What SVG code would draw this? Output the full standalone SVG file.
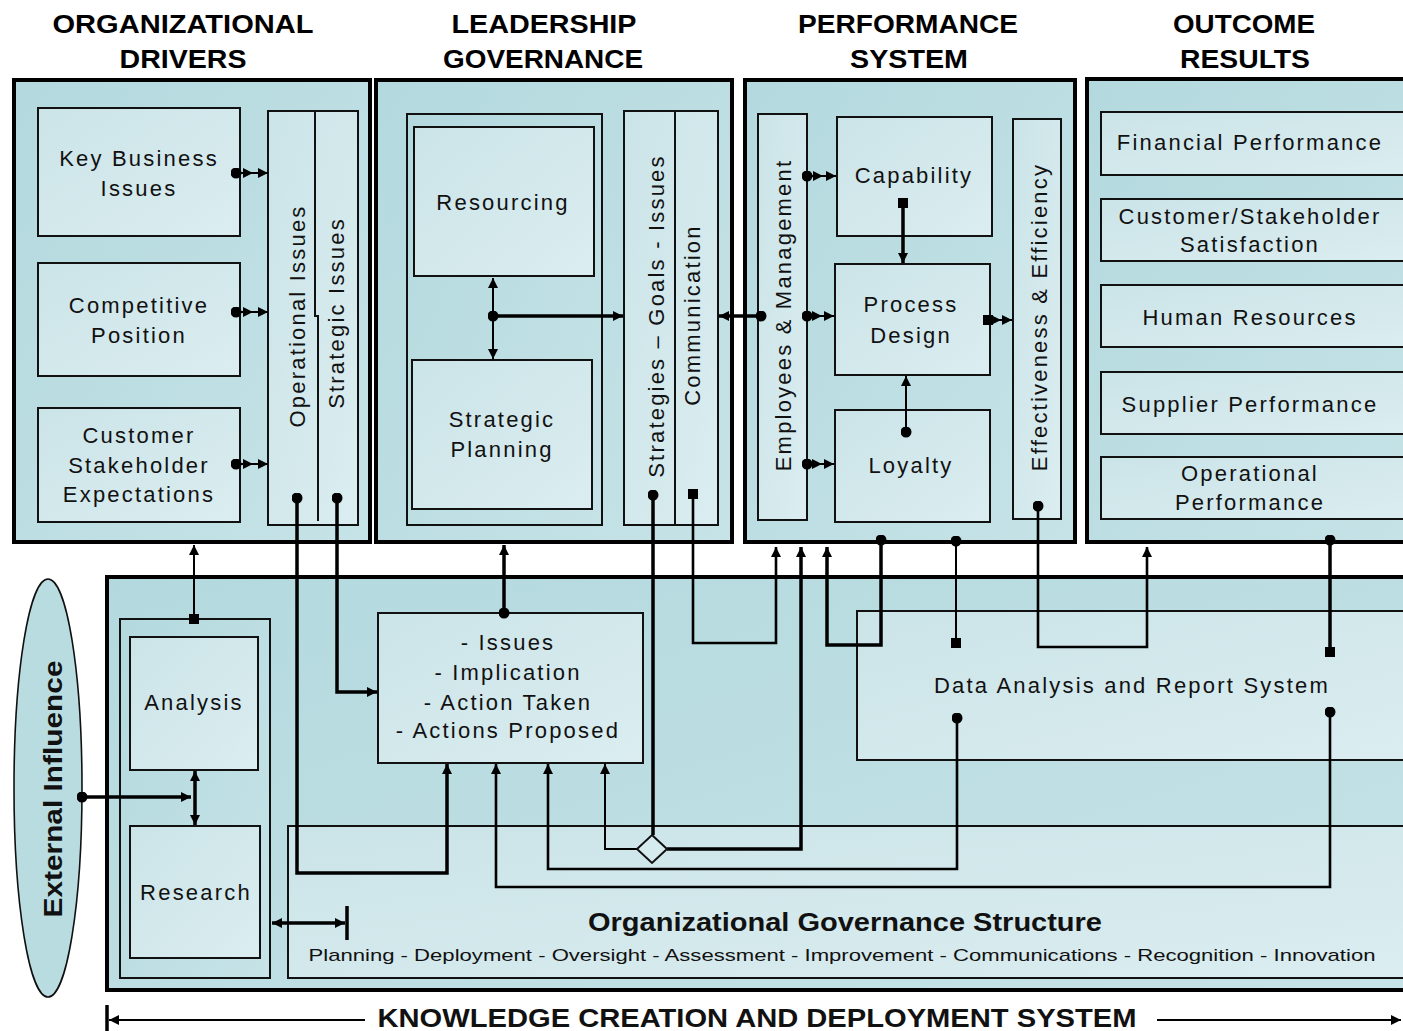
<svg xmlns="http://www.w3.org/2000/svg" width="1403" height="1031" viewBox="0 0 1403 1031">
  <defs>
    <linearGradient id="panelFill" x1="0" y1="0" x2="1" y2="1">
      <stop offset="0" stop-color="#b3d9de"/>
      <stop offset="1" stop-color="#c6e3e7"/>
    </linearGradient>
    <linearGradient id="cellFill" x1="0" y1="0" x2="1" y2="1">
      <stop offset="0" stop-color="#cbe4e8"/>
      <stop offset="1" stop-color="#dbedf0"/>
    </linearGradient>
    <marker id="arrow" viewBox="0 0 10 10" refX="10" refY="5" markerWidth="10" markerHeight="10" markerUnits="userSpaceOnUse" orient="auto-start-reverse">
      <path d="M0,0 L10,5 L0,10 z" fill="#000"/>
    </marker>
    <marker id="dot" viewBox="0 0 10 10" refX="5" refY="5" markerWidth="11" markerHeight="11" markerUnits="userSpaceOnUse">
      <circle cx="5" cy="5" r="5" fill="#000"/>
    </marker>
    <marker id="sq" viewBox="0 0 10 10" refX="5" refY="5" markerWidth="10" markerHeight="10" markerUnits="userSpaceOnUse">
      <rect x="0" y="0" width="10" height="10" fill="#000"/>
    </marker>
    <style>
      .panel { fill: url(#panelFill); stroke: #000; stroke-width: 4; }
      .sub { fill: url(#panelFill); stroke: #111; stroke-width: 2; }
      .cell { fill: url(#cellFill); stroke: #111; stroke-width: 2; }
      .div { stroke: #111; stroke-width: 2; fill: none; }
      .hd { font-family: "Liberation Sans", Arial, sans-serif; font-weight: bold; font-size: 25px; text-anchor: middle; fill: #000; }
      .t { font-family: "Liberation Sans", Arial, sans-serif; font-size: 22px; letter-spacing: 2.2px; text-anchor: middle; fill: #111; }
      .tb { font-family: "Liberation Sans", Arial, sans-serif; font-weight: bold; font-size: 25px; text-anchor: middle; fill: #111; }
      .ts { font-family: "Liberation Sans", Arial, sans-serif; font-size: 17px; text-anchor: middle; fill: #111; }
      .c { fill: none; stroke: #000; stroke-linejoin: miter; }
      .thick { stroke-width: 3.5; }
      .thin { stroke-width: 2; }
      .mid { stroke-width: 2.6; }
    </style>
  </defs>

  <rect width="1403" height="1031" fill="#fff"/>

  <!-- column headings -->
  <g id="headings">
    <text class="hd" x="183" y="33" textLength="261" lengthAdjust="spacingAndGlyphs">ORGANIZATIONAL</text>
    <text class="hd" x="183" y="68" textLength="127" lengthAdjust="spacingAndGlyphs">DRIVERS</text>
    <text class="hd" x="544" y="33" textLength="185" lengthAdjust="spacingAndGlyphs">LEADERSHIP</text>
    <text class="hd" x="543" y="68" textLength="200" lengthAdjust="spacingAndGlyphs">GOVERNANCE</text>
    <text class="hd" x="908" y="33" textLength="220" lengthAdjust="spacingAndGlyphs">PERFORMANCE</text>
    <text class="hd" x="909" y="68" textLength="118" lengthAdjust="spacingAndGlyphs">SYSTEM</text>
    <text class="hd" x="1244" y="33" textLength="142" lengthAdjust="spacingAndGlyphs">OUTCOME</text>
    <text class="hd" x="1245" y="68" textLength="130" lengthAdjust="spacingAndGlyphs">RESULTS</text>
  </g>

  <!-- Organizational drivers -->
  <g id="org-drivers">
    <rect class="panel" x="14" y="80" width="356" height="462"/>
    <g id="key-business-issues">
      <rect class="cell" x="38" y="108" width="202" height="128"/>
      <text class="t" x="139" y="166">Key Business</text>
      <text class="t" x="139" y="196">Issues</text>
    </g>
    <g id="competitive-position">
      <rect class="cell" x="38" y="263" width="202" height="113"/>
      <text class="t" x="139" y="313">Competitive</text>
      <text class="t" x="139" y="343">Position</text>
    </g>
    <g id="customer-expectations">
      <rect class="cell" x="38" y="408" width="202" height="114"/>
      <text class="t" x="139" y="443">Customer</text>
      <text class="t" x="139" y="473">Stakeholder</text>
      <text class="t" x="139" y="502">Expectations</text>
    </g>
    <g id="issues-column">
      <rect class="cell" x="268" y="111" width="90" height="414"/>
      <path class="div" d="M315,111 V316 H318 V521"/>
      <text class="t" transform="translate(305,316) rotate(-90)">Operational Issues</text>
      <text class="t" transform="translate(344,313) rotate(-90)">Strategic Issues</text>
    </g>
  </g>

  <!-- Leadership governance -->
  <g id="leadership">
    <rect class="panel" x="376" y="80" width="356" height="462"/>
    <rect class="sub" x="407" y="114" width="195" height="411"/>
    <g id="resourcing">
      <rect class="cell" x="414" y="127" width="180" height="149"/>
      <text class="t" x="503" y="210">Resourcing</text>
    </g>
    <g id="strategic-planning">
      <rect class="cell" x="412" y="360" width="180" height="149"/>
      <text class="t" x="502" y="427">Strategic</text>
      <text class="t" x="502" y="457">Planning</text>
    </g>
    <g id="strategies-column">
      <rect class="cell" x="624" y="111" width="94" height="414"/>
      <line class="div" x1="675" y1="111" x2="675" y2="525"/>
      <text class="t" transform="translate(664,316) rotate(-90)">Strategies – Goals - Issues</text>
      <text class="t" transform="translate(700,315) rotate(-90)">Communication</text>
    </g>
  </g>

  <!-- Performance system -->
  <g id="performance">
    <rect class="panel" x="745" y="80" width="330" height="462"/>
    <g id="employees-column">
      <rect class="cell" x="758" y="114" width="49" height="406"/>
      <text class="t" transform="translate(791,315) rotate(-90)">Employees  &amp;  Management</text>
    </g>
    <g id="capability">
      <rect class="cell" x="837" y="117" width="155" height="119"/>
      <text class="t" x="914" y="183">Capability</text>
    </g>
    <g id="process-design">
      <rect class="cell" x="835" y="264" width="155" height="111"/>
      <text class="t" x="911" y="312">Process</text>
      <text class="t" x="911" y="343">Design</text>
    </g>
    <g id="loyalty">
      <rect class="cell" x="835" y="410" width="155" height="112"/>
      <text class="t" x="911" y="473">Loyalty</text>
    </g>
    <g id="effectiveness-column">
      <rect class="cell" x="1013" y="119" width="48" height="400"/>
      <text class="t" transform="translate(1047,317) rotate(-90)">Effectiveness  &amp;  Efficiency</text>
    </g>
  </g>

  <!-- Outcome results -->
  <g id="outcome">
    <rect class="panel" x="1087" y="79" width="340" height="463"/>
    <g id="financial-performance">
      <rect class="cell" x="1101" y="112" width="320" height="63"/>
      <text class="t" x="1250" y="150">Financial Performance</text>
    </g>
    <g id="customer-satisfaction">
      <rect class="cell" x="1101" y="199" width="320" height="62"/>
      <text class="t" x="1250" y="224">Customer/Stakeholder</text>
      <text class="t" x="1250" y="252">Satisfaction</text>
    </g>
    <g id="human-resources">
      <rect class="cell" x="1101" y="285" width="320" height="62"/>
      <text class="t" x="1250" y="325">Human Resources</text>
    </g>
    <g id="supplier-performance">
      <rect class="cell" x="1101" y="372" width="320" height="62"/>
      <text class="t" x="1250" y="412">Supplier Performance</text>
    </g>
    <g id="operational-performance">
      <rect class="cell" x="1101" y="457" width="320" height="62"/>
      <text class="t" x="1250" y="481">Operational</text>
      <text class="t" x="1250" y="510">Performance</text>
    </g>
  </g>

  <!-- Knowledge creation and deployment system -->
  <g id="knowledge-system">
    <rect class="panel" x="107" y="577" width="1320" height="413"/>
    <g id="analysis-research">
      <rect class="sub" x="120" y="619" width="150" height="359"/>
      <g id="analysis">
        <rect class="cell" x="130" y="637" width="128" height="133"/>
        <text class="t" x="194" y="710">Analysis</text>
      </g>
      <g id="research">
        <rect class="cell" x="130" y="826" width="130" height="132"/>
        <text class="t" x="196" y="900">Research</text>
      </g>
    </g>
    <g id="governance-structure">
      <rect class="cell" x="288" y="826" width="1140" height="152"/>
      <text class="tb" x="845" y="931" textLength="514" lengthAdjust="spacingAndGlyphs">Organizational Governance Structure</text>
      <text class="ts" x="842" y="961" textLength="1067" lengthAdjust="spacingAndGlyphs">Planning - Deployment - Oversight - Assessment - Improvement - Communications - Recognition - Innovation</text>
    </g>
    <g id="data-analysis">
      <rect class="cell" x="857" y="611" width="570" height="149"/>
      <text class="t" x="1132" y="693">Data Analysis and Report System</text>
    </g>
    <g id="issues-actions">
      <rect class="cell" x="378" y="613" width="265" height="150"/>
      <text class="t" x="508" y="650">- Issues</text>
      <text class="t" x="508" y="680">- Implication</text>
      <text class="t" x="508" y="710">- Action Taken</text>
      <text class="t" x="508" y="738">- Actions Proposed</text>
    </g>
  </g>

  <!-- External influence -->
  <g id="external-influence">
    <ellipse cx="48" cy="788" rx="34" ry="209" fill="#b9dce1" stroke="#111" stroke-width="1.6"/>
    <text class="tb" transform="translate(62,789) rotate(-90)" font-size="26" textLength="257" lengthAdjust="spacingAndGlyphs">External  Influence</text>
  </g>

  <!-- connectors -->
  <g id="connectors">
    <!-- drivers into issues column -->
    <path class="c thin" d="M236,173 L253,173 L268,173" marker-start="url(#dot)" marker-mid="url(#arrow)" marker-end="url(#arrow)"/>
    <path class="c thin" d="M236,312 L253,312 L268,312" marker-start="url(#dot)" marker-mid="url(#arrow)" marker-end="url(#arrow)"/>
    <path class="c thin" d="M236,464 L253,464 L268,464" marker-start="url(#dot)" marker-mid="url(#arrow)" marker-end="url(#arrow)"/>

    <!-- leadership hub -->
    <path class="c thin" d="M493,316 V278" marker-end="url(#arrow)"/>
    <path class="c thin" d="M493,316 V359" marker-end="url(#arrow)"/>
    <path class="c thick" d="M493,316 H623" marker-start="url(#dot)" marker-end="url(#arrow)"/>
    <path class="c thick" d="M761,316 H719" marker-start="url(#dot)" marker-end="url(#arrow)"/>

    <!-- performance system -->
    <path class="c thin" d="M807,176 L823,176 L836,176" marker-start="url(#dot)" marker-mid="url(#arrow)" marker-end="url(#arrow)"/>
    <path class="c thin" d="M807,316 L822,316 L834,316" marker-start="url(#dot)" marker-mid="url(#arrow)" marker-end="url(#arrow)"/>
    <path class="c thin" d="M807,464 L822,464 L834,464" marker-start="url(#dot)" marker-mid="url(#arrow)" marker-end="url(#arrow)"/>
    <path class="c thick" d="M903,203 V263" marker-start="url(#sq)" marker-end="url(#arrow)"/>
    <path class="c thin" d="M906,432 V376" marker-start="url(#dot)" marker-end="url(#arrow)"/>
    <path class="c thin" d="M988,320 L1001,320 L1012,320" marker-start="url(#sq)" marker-mid="url(#arrow)" marker-end="url(#arrow)"/>

    <!-- analysis / research -->
    <path class="c thin" d="M194,619 V545" marker-start="url(#sq)" marker-end="url(#arrow)"/>
    <path class="c thick" d="M82,797 H191" marker-start="url(#dot)" marker-end="url(#arrow)"/>
    <path class="c thick" d="M195,771 V825" marker-start="url(#arrow)" marker-end="url(#arrow)"/>
    <path class="c thick" d="M272,923 H345" marker-start="url(#arrow)" marker-end="url(#arrow)"/>
    <path class="c thick" d="M347,906 V940"/>

    <!-- issues column down to the issues/actions box -->
    <path class="c thick" d="M297,498 V873 H447 V764" marker-start="url(#dot)" marker-end="url(#arrow)"/>
    <path class="c thick" d="M337,498 V692 H377" marker-start="url(#dot)" marker-end="url(#arrow)"/>
    <path class="c thick" d="M504,613 V545" marker-start="url(#dot)" marker-end="url(#arrow)"/>

    <!-- strategies column through the junction -->
    <path class="c thick" d="M653,495 V835" marker-start="url(#dot)"/>
    <path class="c thick" d="M667,849 H801 V547" marker-end="url(#arrow)"/>
    <path class="c thin" d="M637,849 H605 V764" marker-end="url(#arrow)"/>
    <polygon points="652,835 667,849 652,863 637,849" fill="#d6ebee" stroke="#111" stroke-width="2"/>

    <!-- communication column to performance -->
    <path class="c mid" d="M693,494 V643 H776 V547" marker-start="url(#sq)" marker-end="url(#arrow)"/>
    <path class="c thick" d="M881,540 V645 H827 V547" marker-start="url(#dot)" marker-end="url(#arrow)"/>

    <!-- performance / outcome to data analysis -->
    <path class="c thin" d="M956,541 V643" marker-start="url(#dot)" marker-end="url(#sq)"/>
    <path class="c mid" d="M1038,506 V647 H1147 V547" marker-start="url(#dot)" marker-end="url(#arrow)"/>
    <path class="c thick" d="M1330,540 V652" marker-start="url(#dot)" marker-end="url(#sq)"/>

    <!-- data analysis back to the issues/actions box -->
    <path class="c mid" d="M957,718 V869 H548 V764" marker-start="url(#dot)" marker-end="url(#arrow)"/>
    <path class="c mid" d="M1330,712 V887 H496 V764" marker-start="url(#dot)" marker-end="url(#arrow)"/>

    <!-- knowledge creation span -->
    <path class="c thin" d="M365,1020 H109" marker-end="url(#arrow)"/>
    <path class="c thick" d="M107,1005 V1031"/>
    <path class="c thin" d="M1157,1020 H1401" marker-end="url(#arrow)"/>
  </g>

  <text class="tb" x="757" y="1027" font-size="23" textLength="759" lengthAdjust="spacingAndGlyphs">KNOWLEDGE CREATION AND DEPLOYMENT SYSTEM</text>
</svg>
